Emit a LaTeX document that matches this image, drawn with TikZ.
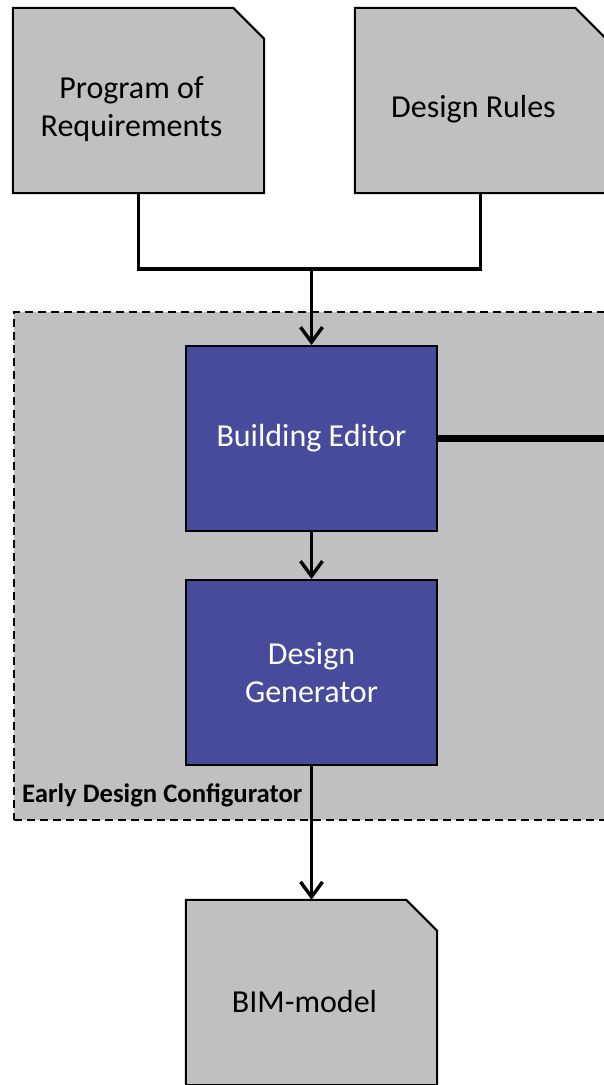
\documentclass[tikz,border=0pt]{standalone}
\usepackage{fontspec}
\setmainfont{Carlito}
\usetikzlibrary{arrows.meta,backgrounds}
\definecolor{docgray}{RGB}{192,192,192}
\definecolor{procblue}{RGB}{71,75,155}
\tikzset{
  docnode/.style={inner sep=0pt, minimum width=237pt, minimum height=167pt, align=center,
    font=\fontsize{32}{38}\selectfont, text=black},
  procnode/.style={draw=black, line width=2pt, fill=procblue, minimum width=251pt,
    minimum height=185pt, inner sep=0pt, align=center, text=white,
    font=\fontsize{32}{38}\selectfont},
  docoutline/.style={draw=black, line width=2pt, fill=docgray},
  conn/.style={line width=3.4pt},
  arr/.style={conn, -{Straight Barb[length=15pt, width=22pt]}},
  container/.style={draw=black, dash pattern=on 8pt off 5pt, line width=2pt,
    fill=docgray, inner sep=0pt},
}
\newcommand\docshape[1]{%
  \path[docoutline] ([yshift=18pt]#1.north west)
    -- ([xshift=-17pt,yshift=18pt]#1.north east)
    -- ([xshift=14pt,yshift=-13pt]#1.north east)
    -- ([xshift=14pt]#1.south east)
    -- (#1.south west) -- cycle;}
\begin{document}
\begin{tikzpicture}[x=1pt,y=-1pt]
\useasboundingbox (0,0) rectangle (603,1085);
% container
\node[container, minimum width=620pt, minimum height=508pt, anchor=north west] (edc) at (13,311) {};
\node[anchor=west, font=\bfseries\fontsize{26.7}{30}\selectfont, inner sep=0pt] (lbl) at (22,795) {Early Design Configurator};
% documents (text areas)
\node[docnode] (por) at (131.5,109.5) {Program of\\Requirements};
\node[docnode] (dr) at (473.5,109.5) {Design Rules};
\node[docnode] (bim) at (304.5,1001.5) {BIM-model};
\begin{scope}[on background layer]
  \docshape{por}
  \docshape{dr}
  \docshape{bim}
\end{scope}
% process boxes
\node[procnode] (be) at (311.5,438.5) {Building Editor};
\node[procnode] (dg) at (311.5,672.5) {Design\\Generator};
% connectors
\coordinate (j) at (311.5,269);
\coordinate (exit) at (640,438.5);
\draw[conn] ([xshift=7pt]por.south) |- (j) -| ([xshift=7pt]dr.south);
\draw[arr] (j) -- (be.north);
\draw[arr] (be.south) -- (dg.north);
\draw[arr] (dg.south) -- ([xshift=7pt,yshift=18pt]bim.north);
\draw[line width=6.5pt] (be.east) -- (exit);
\end{tikzpicture}
\end{document}
